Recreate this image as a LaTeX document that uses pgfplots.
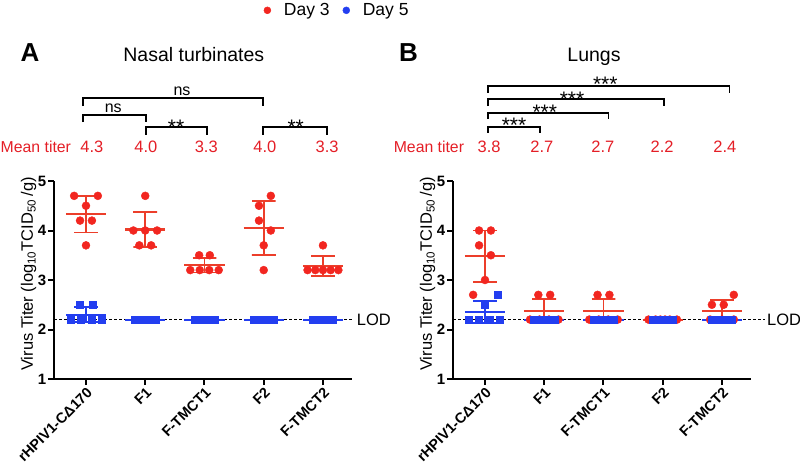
\documentclass[border=0pt]{standalone}
\usepackage{pgfplots}
\pgfplotsset{compat=1.18}
\usepackage{fontspec}
\setmainfont{Liberation Sans}
\definecolor{tred}{RGB}{242,38,32}
\definecolor{lred}{RGB}{236,62,42}
\definecolor{mred}{RGB}{228,30,38}
\definecolor{tblue}{RGB}{35,62,240}

% mean line + SD error bar, drawn from the group's numbers
\newcommand\grp[5]{%
 \pgfmathsetmacro\xa{#2-0.34}\pgfmathsetmacro\xb{#2+0.34}%
 \pgfmathsetmacro\xc{#2-0.2}\pgfmathsetmacro\xd{#2+0.2}%
 \edef\temp{\noexpand\addplot[#1,line width=2.2pt,forget plot] coordinates {(\xa,#3)(\xb,#3)};%
 \noexpand\addplot[#1,line width=1.8pt,line join=bevel,forget plot] coordinates {(\xc,#5)(\xd,#5)(#2,#5)(#2,#4)(\xc,#4)(\xd,#4)};}%
 \temp}

\pgfplotsset{panel/.style={
  scale only axis, width=298pt, height=198pt,
  xmin=-0.54, xmax=4.49, ymin=1, ymax=5,
  axis x line*=bottom, axis y line*=left,
  axis line style={-, line width=2.6pt},
  xtick={0,...,4}, ytick={1,...,5},
  xticklabels={rHPIV1-CΔ170,F1,F-TMCT1,F2,F-TMCT2},
  tick align=outside, major tick length=6pt,
  major tick style={black, line width=2pt},
  /pgf/number format/assume math mode=true,
  yticklabel style={font=\fontsize{15}{15}\selectfont\bfseries, inner sep=1.5pt},
  xticklabel style={font=\fontsize{14.5}{15}\selectfont\bfseries, rotate=45, anchor=north east, inner sep=1pt},
  ylabel={Virus Titer (log\textsubscript{10}TCID\textsubscript{50}\,/g)},
  ylabel style={font=\fontsize{16.5}{16.5}\selectfont, at={(axis description cs:-0.085,0.53)}, anchor=center},
  clip=false}}

\begin{document}
\begin{tikzpicture}[x=1pt,y=1pt]
\useasboundingbox (0,0) rectangle (800,469);

% ---------------- Panel A ----------------
\begin{axis}[panel, at={(54pt,90pt)}, anchor=south west,
  legend style={draw=none, fill=none, font=\fontsize{17.5}{17.5}\selectfont,
    at={(axis description cs:0.703,1.862)}, anchor=west, inner sep=0pt,
    /tikz/every even column/.append style={column sep=11pt}},
  legend columns=2]
\addlegendimage{legend image code/.code={\fill[tred] (3.5pt,0pt) circle (3.5pt); \path[draw=none] (0pt,0pt) -- (18pt,0pt);}}\addlegendentry{Day 3}
\addlegendimage{legend image code/.code={\fill[tblue] (3.5pt,0pt) circle (3.5pt); \path[draw=none] (0pt,0pt) -- (18pt,0pt);}}\addlegendentry{Day 5}

\addplot[black, line width=0.9pt, dash pattern=on 3pt off 2pt, forget plot] coordinates {(-0.54,2.2)(4.49,2.2)};

\addplot[only marks, mark=*, mark size=4pt, color=tred, forget plot] coordinates {
 (-0.2,4.7)(0.2,4.7)(0,4.5)(-0.1,4.2)(0.1,4.2)(0,3.7)
 (1,4.7)(0.8,4.0)(1,4.0)(1.2,4.0)(0.9,3.7)(1.1,3.7)
 (1.91,3.5)(2.09,3.5)(1.76,3.2)(1.92,3.2)(2.08,3.2)(2.24,3.2)
 (3.12,4.7)(2.92,4.5)(2.92,4.2)(3.12,4.0)(3,3.7)(3,3.2)
 (4,3.7)(3.74,3.2)(3.87,3.2)(4,3.2)(4.13,3.2)(4.26,3.2)};
\addplot[only marks, mark=square*, mark size=3.6pt, color=tblue, forget plot] coordinates {
 (-0.11,2.5)(0.11,2.5)(-0.26,2.2)(-0.09,2.2)(0.09,2.2)(0.26,2.2)
 (0.83,2.2)(0.9,2.2)(0.97,2.2)(1.03,2.2)(1.1,2.2)(1.17,2.2)
 (1.83,2.2)(1.9,2.2)(1.97,2.2)(2.03,2.2)(2.1,2.2)(2.17,2.2)
 (2.83,2.2)(2.9,2.2)(2.97,2.2)(3.03,2.2)(3.1,2.2)(3.17,2.2)
 (3.83,2.2)(3.9,2.2)(3.97,2.2)(4.03,2.2)(4.1,2.2)(4.17,2.2)};
\grp{tblue}{0}{2.3}{2.15}{2.45}
\grp{tblue}{1}{2.2}{2.2}{2.2}
\grp{tblue}{2}{2.2}{2.2}{2.2}
\grp{tblue}{3}{2.2}{2.2}{2.2}
\grp{tblue}{4}{2.2}{2.2}{2.2}
\grp{lred}{0}{4.33}{3.96}{4.70}
\grp{lred}{1}{4.02}{3.67}{4.37}
\grp{lred}{2}{3.30}{3.15}{3.45}
\grp{lred}{3}{4.05}{3.50}{4.60}
\grp{lred}{4}{3.28}{3.08}{3.48}

% significance brackets
\addplot[black, line width=1.4pt, forget plot] coordinates {(-0.05,6.515)(-0.05,6.677)(2.99,6.677)(2.99,6.515)};
\addplot[black, line width=1.4pt, forget plot] coordinates {(-0.05,6.19)(-0.05,6.333)(1.01,6.333)(1.01,6.19)};
\addplot[black, line width=1.4pt, forget plot] coordinates {(1.01,5.93)(1.01,6.09)(2.04,6.09)(2.04,5.93)};
\addplot[black, line width=1.4pt, forget plot] coordinates {(2.99,5.93)(2.99,6.09)(4.07,6.09)(4.07,5.93)};
\node[anchor=base, inner sep=0, font=\fontsize{16}{16}\selectfont] at (axis cs:1.62,6.72) {ns};
\node[anchor=base, inner sep=0, font=\fontsize{16}{16}\selectfont] at (axis cs:0.46,6.38) {ns};
\node[anchor=base, inner sep=0, font=\fontsize{21}{21}\selectfont] at (axis cs:1.52,5.93) {**};
\node[anchor=base, inner sep=0, font=\fontsize{21}{21}\selectfont] at (axis cs:3.54,5.93) {**};

% mean titers
\node[anchor=base east, inner sep=0, text=mred, font=\fontsize{15.8}{15.8}\selectfont] at (axis cs:-0.25,5.572) {Mean titer};
\node[anchor=base, inner sep=0, text=mred, font=\fontsize{16.5}{16.5}\selectfont] at (axis cs:0.1,5.572) {4.3};
\node[anchor=base, inner sep=0, text=mred, font=\fontsize{16.5}{16.5}\selectfont] at (axis cs:1.01,5.572) {4.0};
\node[anchor=base, inner sep=0, text=mred, font=\fontsize{16.5}{16.5}\selectfont] at (axis cs:2.03,5.572) {3.3};
\node[anchor=base, inner sep=0, text=mred, font=\fontsize{16.5}{16.5}\selectfont] at (axis cs:3.02,5.572) {4.0};
\node[anchor=base, inner sep=0, text=mred, font=\fontsize{16.5}{16.5}\selectfont] at (axis cs:4.07,5.572) {3.3};

\node[anchor=base, inner sep=0, font=\fontsize{19.5}{19.5}\selectfont] at (axis cs:1.82,7.414) {Nasal turbinates};
\node[anchor=base, inner sep=0, font=\fontsize{26}{26}\selectfont\bfseries] at (axis cs:-0.945,7.414) {A};
\node[anchor=west, inner sep=0, font=\fontsize{16.5}{16.5}\selectfont] at (axis cs:4.57,2.2) {LOD};
\end{axis}

% ---------------- Panel B ----------------
\begin{axis}[panel, at={(453pt,90pt)}, anchor=south west]
\addplot[black, line width=0.9pt, dash pattern=on 3pt off 2pt, forget plot] coordinates {(-0.54,2.2)(4.72,2.2)};

\addplot[only marks, mark=*, mark size=4pt, color=tred, forget plot] coordinates {
 (-0.1,4.0)(0.1,4.0)(-0.1,3.7)(0.1,3.5)(0,3.0)(-0.2,2.7)
 (0.9,2.7)(1.1,2.7)(0.76,2.2)(0.92,2.2)(1.08,2.2)(1.24,2.2)
 (1.9,2.7)(2.1,2.7)(1.76,2.2)(1.92,2.2)(2.08,2.2)(2.24,2.2)
 (2.76,2.2)(2.88,2.2)(2.96,2.2)(3.04,2.2)(3.12,2.2)(3.24,2.2)
 (4.2,2.7)(3.83,2.5)(4.03,2.5)(3.8,2.2)(4,2.2)(4.2,2.2)};
\addplot[only marks, mark=square*, mark size=3.6pt, color=tblue, forget plot] coordinates {
 (0.22,2.7)(0,2.5)(-0.27,2.2)(-0.1,2.2)(0.07,2.2)(0.25,2.2)
 (0.83,2.2)(0.9,2.2)(0.97,2.2)(1.03,2.2)(1.1,2.2)(1.17,2.2)
 (1.83,2.2)(1.9,2.2)(1.97,2.2)(2.03,2.2)(2.1,2.2)(2.17,2.2)
 (2.83,2.2)(2.9,2.2)(2.97,2.2)(3.03,2.2)(3.1,2.2)(3.17,2.2)
 (3.83,2.2)(3.9,2.2)(3.97,2.2)(4.03,2.2)(4.1,2.2)(4.17,2.2)};
\grp{tblue}{0}{2.35}{2.13}{2.57}
\grp{tblue}{1}{2.2}{2.2}{2.2}
\grp{tblue}{2}{2.2}{2.2}{2.2}
\grp{tblue}{3}{2.2}{2.2}{2.2}
\grp{tblue}{4}{2.2}{2.2}{2.2}
\grp{lred}{0}{3.48}{2.96}{4.00}
\grp{lred}{1}{2.37}{2.12}{2.62}
\grp{lred}{2}{2.37}{2.12}{2.62}
\grp{lred}{3}{2.2}{2.2}{2.2}
\grp{lred}{4}{2.38}{2.17}{2.60}

\addplot[black, line width=1.4pt, forget plot] coordinates {(0.05,6.78)(0.05,6.92)(4.13,6.92)(4.13,6.78)};
\addplot[black, line width=1.4pt, forget plot] coordinates {(0.05,6.515)(0.05,6.657)(3.02,6.657)(3.02,6.515)};
\addplot[black, line width=1.4pt, forget plot] coordinates {(0.05,6.25)(0.05,6.374)(2.08,6.374)(2.08,6.25)};
\addplot[black, line width=1.4pt, forget plot] coordinates {(0.05,5.97)(0.05,6.09)(0.93,6.09)(0.93,5.97)};
\node[anchor=base, inner sep=0, font=\fontsize{21}{21}\selectfont] at (axis cs:2.03,6.80) {***};
\node[anchor=base, inner sep=0, font=\fontsize{21}{21}\selectfont] at (axis cs:1.47,6.515) {***};
\node[anchor=base, inner sep=0, font=\fontsize{21}{21}\selectfont] at (axis cs:1.01,6.25) {***};
\node[anchor=base, inner sep=0, font=\fontsize{21}{21}\selectfont] at (axis cs:0.49,5.97) {***};

\node[anchor=base east, inner sep=0, text=mred, font=\fontsize{15.8}{15.8}\selectfont] at (axis cs:-0.35,5.572) {Mean titer};
\node[anchor=base, inner sep=0, text=mred, font=\fontsize{16.5}{16.5}\selectfont] at (axis cs:0.07,5.572) {3.8};
\node[anchor=base, inner sep=0, text=mred, font=\fontsize{16.5}{16.5}\selectfont] at (axis cs:0.96,5.572) {2.7};
\node[anchor=base, inner sep=0, text=mred, font=\fontsize{16.5}{16.5}\selectfont] at (axis cs:1.99,5.572) {2.7};
\node[anchor=base, inner sep=0, text=mred, font=\fontsize{16.5}{16.5}\selectfont] at (axis cs:2.99,5.572) {2.2};
\node[anchor=base, inner sep=0, text=mred, font=\fontsize{16.5}{16.5}\selectfont] at (axis cs:4.05,5.572) {2.4};

\node[anchor=base, inner sep=0, font=\fontsize{19.5}{19.5}\selectfont] at (axis cs:1.84,7.414) {Lungs};
\node[anchor=base, inner sep=0, font=\fontsize{26}{26}\selectfont\bfseries] at (axis cs:-1.29,7.414) {B};
\node[anchor=west, inner sep=0, font=\fontsize{16.5}{16.5}\selectfont] at (axis cs:4.76,2.2) {LOD};
\end{axis}
\end{tikzpicture}
\end{document}
